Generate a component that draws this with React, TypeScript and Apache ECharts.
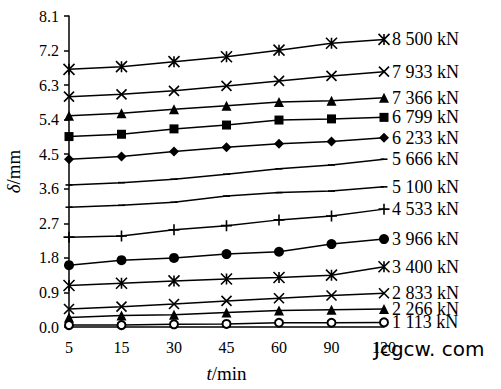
import React, { useEffect, useRef } from "react";
import * as echarts from "echarts";

const categories = ["5", "15", "30", "45", "60", "90", "120"];
const yTicks = { min: 0, max: 8.1, interval: 0.9 };

const s8500 = [6.71, 6.78, 6.91, 7.04, 7.21, 7.39, 7.49];
const s7933 = [6.0, 6.06, 6.15, 6.28, 6.41, 6.54, 6.65];
const s7366 = [5.5, 5.57, 5.67, 5.76, 5.86, 5.89, 5.97];
const s6799 = [4.96, 5.02, 5.16, 5.26, 5.39, 5.42, 5.46];
const s6233 = [4.37, 4.44, 4.57, 4.68, 4.77, 4.83, 4.93];
const s5666 = [3.7, 3.76, 3.85, 3.98, 4.12, 4.22, 4.37];
const s5100 = [3.12, 3.17, 3.25, 3.41, 3.5, 3.54, 3.65];
const s4533 = [2.34, 2.37, 2.53, 2.64, 2.79, 2.89, 3.07];
const s3966 = [1.61, 1.74, 1.8, 1.9, 1.96, 2.16, 2.29];
const s3400 = [1.08, 1.14, 1.2, 1.25, 1.29, 1.35, 1.57];
const s2833 = [0.47, 0.53, 0.6, 0.68, 0.75, 0.82, 0.88];
const s2266 = [0.25, 0.3, 0.32, 0.38, 0.43, 0.45, 0.47];
const s1113 = [0.05, 0.05, 0.07, 0.08, 0.11, 0.11, 0.12];

const labels = [
  "8 500 kN", "7 933 kN", "7 366 kN", "6 799 kN", "6 233 kN", "5 666 kN", "5 100 kN",
  "4 533 kN", "3 966 kN", "3 400 kN", "2 833 kN", "2 266 kN", "1 113 kN",
];

const STAR = "path://M5 0L5 10M0 0L10 10M10 0L0 10";
const CROSS = "path://M0 0L10 10M10 0L0 10";
const PLUS = "path://M5 0L5 10M0 5L10 5";
const DASH = "path://M0 0L10 0L10 1.6L0 1.6Z";

const serif = "'Liberation Serif', 'Times New Roman', serif";

export default function App() {
  const ref = useRef<HTMLDivElement>(null);
  useEffect(() => {
    if (!ref.current) return;
    const chart = echarts.init(ref.current, undefined, { renderer: "svg" });
    const defs: [number[], string, number, boolean][] = [
      [s8500, STAR, 11, true],
      [s7933, CROSS, 10, true],
      [s7366, "triangle", 10, false],
      [s6799, "rect", 9, false],
      [s6233, "diamond", 10, false],
      [s5666, DASH, 6, false],
      [s5100, DASH, 6, false],
      [s4533, PLUS, 11, true],
      [s3966, "circle", 10, false],
      [s3400, STAR, 11, true],
      [s2833, CROSS, 10, true],
      [s2266, "triangle", 10, false],
      [s1113, "emptyCircle", 8, false],
    ];
    const series = defs.map(([data, sym, size, stroke], i) => ({
      type: "line",
      name: labels[i],
      data,
      symbol: sym,
      symbolSize: sym === DASH ? [7, 1.6] : size,
      showAllSymbol: true,
      lineStyle: { color: "#000", width: 1.5 },
      itemStyle: stroke
        ? { color: "#000", borderColor: "#000", borderWidth: 1.6 }
        : sym === "emptyCircle"
        ? { color: "#000", borderWidth: 1.5 }
        : { color: "#000", borderWidth: 0 },
      endLabel: {
        show: true,
        formatter: labels[i],
        color: "#000",
        fontFamily: serif,
        fontSize: 18,
        distance: 8,
      },
      z: 3,
    }));
    chart.setOption({
      animation: false,
      grid: { left: 69, right: 117, top: 16, bottom: 62, outerBoundsMode: "none", containLabel: false },
      xAxis: {
        type: "category",
        data: categories,
        boundaryGap: false,
        name: "{i|t}/min",
        nameLocation: "middle",
        nameGap: 37,
        nameTextStyle: {
          color: "#000",
          fontFamily: serif,
          fontSize: 19,
          rich: { i: { fontStyle: "italic", fontFamily: serif, fontSize: 19, color: "#000" } },
        },
        axisLine: { lineStyle: { color: "#000", width: 1.5 } },
        axisTick: { show: false },
        axisLabel: { color: "#000", fontFamily: serif, fontSize: 16, margin: 12 },
      },
      yAxis: {
        type: "value",
        min: yTicks.min,
        max: yTicks.max,
        interval: yTicks.interval,
        name: "{i|δ}/mm",
        nameLocation: "middle",
        nameRotate: 90,
        nameGap: 46,
        nameTextStyle: {
          color: "#000",
          fontFamily: serif,
          fontSize: 19,
          rich: { i: { fontStyle: "italic", fontFamily: serif, fontSize: 19, color: "#000" } },
        },
        axisLine: { show: true, lineStyle: { color: "#000", width: 1.5 } },
        axisTick: { show: true, inside: false, length: 5, lineStyle: { color: "#000", width: 1.5 } },
        splitLine: { show: false },
        axisLabel: {
          color: "#000",
          fontFamily: serif,
          fontSize: 16,
          margin: 10,
          formatter: (v: number) => v.toFixed(1),
        },
      },
      graphic: [
        {
          type: "text",
          left: 374,
          top: 339,
          z: 100,
          style: {
            text: "Jcgcw. com",
            fill: "#000",
            font: "20px 'DejaVu Sans', sans-serif",
          },
        },
      ],
      series,
    });
    return () => chart.dispose();
  }, []);
  return <div ref={ref} style={{ width: 501, height: 389, position: "absolute", left: 0, top: 0, background: "#fff" }} />;
}
